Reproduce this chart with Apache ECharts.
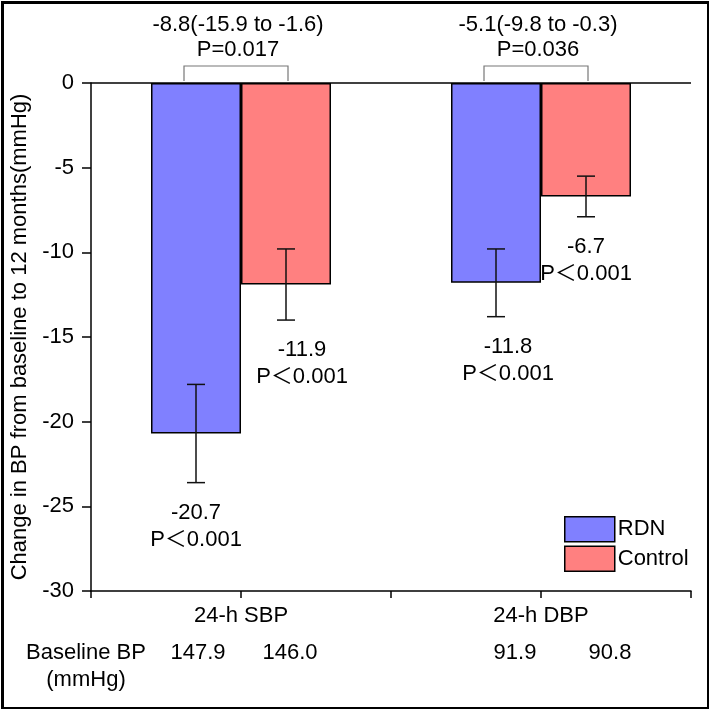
<!DOCTYPE html>
<html>
<head>
<meta charset="utf-8">
<script src="https://cdn.jsdelivr.net/npm/echarts@6/dist/echarts.min.js"></script>
<style>
html,body{margin:0;padding:0;background:#fff;}
#c{width:709px;height:709px;}
</style>
</head>
<body>
<div id="c"></div>
<script>
// ---- data ----
const categories = ['24-h SBP', '24-h DBP'];
const catPos = [0.5, 1.5];
const rdnMean = [-20.7, -11.8];
const rdnLow = [-23.6, -13.8];
const rdnHigh = [-17.8, -9.8];
const ctrlMean = [-11.9, -6.7];
const ctrlLow = [-14.0, -7.9];
const ctrlHigh = [-9.8, -5.5];
const rdnPText = ['P\uFF1C0.001', 'P\uFF1C0.001'];
const ctrlPText = ['P\uFF1C0.001', 'P\uFF1C0.001'];
const diffText = ['-8.8(-15.9 to -1.6)', '-5.1(-9.8 to -0.3)'];
const diffP = ['P=0.017', 'P=0.036'];
const baselineRDN = ['147.9', '91.9'];
const baselineCtrl = ['146.0', '90.8'];
const yMin = -30, yMax = 0, yStep = 5;

// ---- styles ----
const FONT = 'Liberation Sans, Arial, Noto Sans CJK SC, sans-serif';
const FS = 22;
const BAR_W = 90;
const BLUE = '#8080FF', RED = '#FF8080';

const chart = echarts.init(document.getElementById('c'), null, {renderer: 'canvas'});

function fmtLabel(v) {
  const i = catPos.indexOf(v);
  return i >= 0 ? categories[i] : '';
}

const errData = [];
catPos.forEach((x, i) => {
  errData.push([x, rdnLow[i], rdnHigh[i], rdnMean[i], -1, rdnPText[i], i]);
  errData.push([x, ctrlLow[i], ctrlHigh[i], ctrlMean[i], 1, ctrlPText[i], i]);
});
const labelNudge = {'-1_0': 0, '1_0': 16, '-1_1': 12, '1_1': 0};

const option = {
  animation: false,
  backgroundColor: '#fff',
  textStyle: {fontFamily: FONT},
  grid: {left: 91, right: 18, top: 83, bottom: 118, containLabel: false},
  legend: {
    data: ['RDN', 'Control'],
    orient: 'vertical',
    left: 559, top: 511,
    itemWidth: 50, itemHeight: 25, itemGap: 3,
    icon: 'rect',
    itemStyle: {borderColor: '#000', borderWidth: 1.5},
    textStyle: {fontSize: FS, color: '#000', fontFamily: FONT, padding: [0, 0, 0, -2]}
  },
  xAxis: {
    type: 'value', min: 0, max: 2, interval: 0.5,
    axisLine: {onZero: false, lineStyle: {color: '#000', width: 1.5}},
    axisTick: {show: true, inside: false, length: 7, lineStyle: {color: '#000', width: 1.5}},
    axisLabel: {formatter: fmtLabel, fontSize: FS, color: '#000', margin: 14, fontFamily: FONT, showMinLabel: true, showMaxLabel: true},
    splitLine: {show: false}
  },
  yAxis: {
    type: 'value', min: yMin, max: yMax, interval: yStep,
    name: 'Change in BP from baseline to 12 months(mmHg)',
    nameLocation: 'middle', nameGap: 53, nameRotate: 90,
    nameTextStyle: {fontSize: FS, color: '#000', fontFamily: FONT},
    axisLine: {show: true, lineStyle: {color: '#000', width: 1.5}},
    axisTick: {show: true, inside: false, length: 9, lineStyle: {color: '#000', width: 1.5}},
    axisLabel: {fontSize: FS, color: '#000', margin: 17, fontFamily: FONT},
    splitLine: {show: false}
  },
  series: [
    {
      name: 'RDN', type: 'bar', barWidth: BAR_W, barGap: '0%',
      data: catPos.map((x, i) => [x, rdnMean[i]]),
      itemStyle: {color: BLUE, borderColor: '#000', borderWidth: 1.5},
      markLine: {
        silent: true, symbol: ['none', 'none'],
        label: {show: false},
        lineStyle: {color: '#000', width: 1.5, type: 'solid'},
        data: [{yAxis: 0}]
      },
      z: 2
    },
    {
      name: 'Control', type: 'bar', barWidth: BAR_W, barGap: '0%',
      data: catPos.map((x, i) => [x, ctrlMean[i]]),
      itemStyle: {color: RED, borderColor: '#000', borderWidth: 1.5},
      z: 2
    },
    {
      name: 'err', type: 'custom', z: 5, clip: false,
      data: errData,
      renderItem: function (params, api) {
        const x = api.value(0);
        const side = api.value(4);
        const idx = api.value(6);
        const lo = api.coord([x, api.value(1)]);
        const hi = api.coord([x, api.value(2)]);
        const px = lo[0] + side * BAR_W / 2;
        const cap = 9;
        const st = {stroke: '#111', lineWidth: 1.5};
        const nudge = labelNudge[side + '_' + idx] || 0;
        const meanVal = api.value(3);
        return {
          type: 'group',
          children: [
            {type: 'line', shape: {x1: px, y1: hi[1], x2: px, y2: lo[1]}, style: st},
            {type: 'line', shape: {x1: px - cap, y1: hi[1], x2: px + cap, y2: hi[1]}, style: st},
            {type: 'line', shape: {x1: px - cap, y1: lo[1], x2: px + cap, y2: lo[1]}, style: st},
            {type: 'text', x: px + nudge, y: lo[1] + 30, style: {text: meanVal.toFixed(1), fill: '#000', font: FS + 'px ' + FONT, align: 'center', verticalAlign: 'middle'}},
            {type: 'text', x: px + nudge, y: lo[1] + 57, style: {text: errData[params.dataIndex][5], fill: '#000', font: FS + 'px ' + FONT, align: 'center', verticalAlign: 'middle'}}
          ]
        };
      }
    },
    {
      name: 'annot', type: 'custom', z: 5, clip: false,
      data: catPos.map((x, i) => [x, yMax, yMin, i]),
      renderItem: function (params, api) {
        const x = api.value(0);
        const i = api.value(3);
        const top = api.coord([x, api.value(1)]);
        const bot = api.coord([x, api.value(2)]);
        const cx = top[0];
        const bl = cx - BAR_W / 2 - 12, br = cx + BAR_W / 2 + 2;
        const bTop = top[1] - 17, bBot = top[1] - 2;
        const gs = {stroke: '#777', lineWidth: 1.2, fill: null};
        const tf = FS + 'px ' + FONT;
        return {
          type: 'group',
          children: [
            {type: 'polyline', shape: {points: [[bl, bBot], [bl, bTop], [br, bTop], [br, bBot]]}, style: gs},
            {type: 'text', x: cx - 3, y: top[1] - 58, style: {text: diffText[i], fill: '#000', font: tf, align: 'center', verticalAlign: 'middle'}},
            {type: 'text', x: cx - 3, y: top[1] - 33, style: {text: diffP[i], fill: '#000', font: tf, align: 'center', verticalAlign: 'middle'}},
            {type: 'text', x: cx - BAR_W / 2 + 2 + (i ? 17 : 0), y: bot[1] + 62, style: {text: baselineRDN[i], fill: '#000', font: tf, align: 'center', verticalAlign: 'middle'}},
            {type: 'text', x: cx + BAR_W / 2 + 4 + (i ? 20 : 0), y: bot[1] + 62, style: {text: baselineCtrl[i], fill: '#000', font: tf, align: 'center', verticalAlign: 'middle'}}
          ].concat(i === 0 ? [
            {type: 'text', x: 86, y: bot[1] + 62, style: {text: 'Baseline BP', fill: '#000', font: tf, align: 'center', verticalAlign: 'middle'}},
            {type: 'text', x: 86, y: bot[1] + 89, style: {text: '(mmHg)', fill: '#000', font: tf, align: 'center', verticalAlign: 'middle'}}
          ] : [])
        };
      }
    }
  ],
  graphic: [
    {type: 'rect', left: 0, top: 0, z: 100, silent: true, shape: {x: 1.5, y: 1.5, width: 706, height: 706}, style: {fill: null, stroke: '#000', lineWidth: 3}}
  ]
};
chart.setOption(option);
</script>
</body>
</html>
